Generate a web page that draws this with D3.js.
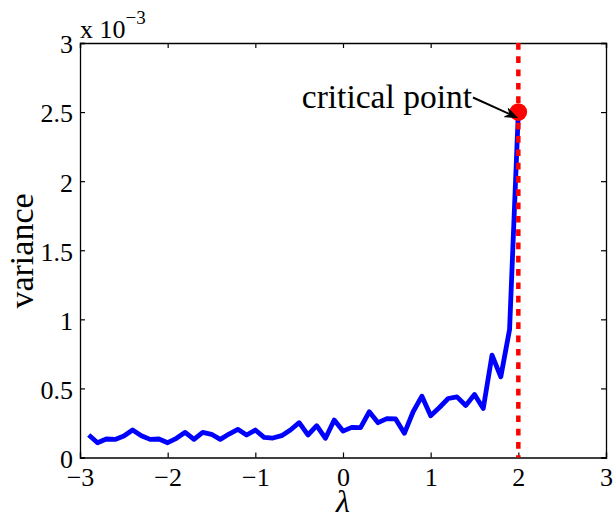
<!DOCTYPE html>
<html>
<head>
<meta charset="utf-8">
<script src="https://cdn.jsdelivr.net/npm/d3@7"></script>
<style>
  html, body { margin: 0; padding: 0; background: #fff; }
  svg { display: block; }
  text { font-family: "Liberation Serif", "Times New Roman", serif; fill: #000; }
</style>
</head>
<body>
<svg id="chart" width="613" height="514"></svg>
<script>
// Control parameter lambda and the measured variance (in units of 1e-3)
const lambdas = [
  -2.9, -2.8, -2.7, -2.6, -2.5, -2.4, -2.3, -2.2, -2.1, -2.0,
  -1.9, -1.8, -1.7, -1.6, -1.5, -1.4, -1.3, -1.2, -1.1, -1.0,
  -0.9, -0.8, -0.7, -0.6, -0.5, -0.4, -0.3, -0.2, -0.1, 0.0,
   0.1,  0.2,  0.3,  0.4,  0.5,  0.6,  0.7,  0.8,  0.9, 1.0,
   1.1,  1.2,  1.3,  1.4,  1.5,  1.6,  1.7,  1.8,  1.9, 2.0
];
const variance = [
  0.163, 0.107, 0.134, 0.131, 0.155, 0.199, 0.158, 0.131, 0.134, 0.107,
  0.139, 0.182, 0.131, 0.182, 0.168, 0.131, 0.170, 0.204, 0.163, 0.199,
  0.146, 0.141, 0.158, 0.199, 0.252, 0.163, 0.230, 0.139, 0.271, 0.191,
  0.218, 0.216, 0.331, 0.252, 0.281, 0.279, 0.175, 0.331, 0.444, 0.302,
  0.362, 0.427, 0.439, 0.377, 0.456, 0.355, 0.741, 0.584, 0.926, 2.5
];
const criticalLambda = 2.0;
const criticalVariance = 2.5;
const xTicks = [-3, -2, -1, 0, 1, 2, 3];
const xTickLabels = ["\u22123", "\u22122", "\u22121", "0", "1", "2", "3"];
const yTicks = [0, 0.5, 1, 1.5, 2, 2.5, 3];
const yTickLabels = ["0", "0.5", "1", "1.5", "2", "2.5", "3"];

const svg = d3.select("#chart");
const plotLeft = 80, plotRight = 606, plotTop = 43, plotBottom = 457.5;

const x = d3.scaleLinear().domain([-3, 3]).range([plotLeft, plotRight]);
const y = d3.scaleLinear().domain([0, 3]).range([plotBottom, plotTop]);

const fontSize = 26;

// Axes with inward-pointing ticks on all four sides
const tick = 5;
const gx = svg.append("g").attr("transform", `translate(0,${plotBottom})`)
  .call(d3.axisBottom(x).tickValues(xTicks).tickSize(-tick).tickPadding(10)
    .tickFormat((d, i) => xTickLabels[i]));
const gxTop = svg.append("g").attr("transform", `translate(0,${plotTop})`)
  .call(d3.axisTop(x).tickValues(xTicks).tickSize(-tick).tickFormat(""));
const gy = svg.append("g").attr("transform", `translate(${plotLeft},0)`)
  .call(d3.axisLeft(y).tickValues(yTicks).tickSize(-tick).tickPadding(7)
    .tickFormat((d, i) => yTickLabels[i]));
const gyRight = svg.append("g").attr("transform", `translate(${plotRight},0)`)
  .call(d3.axisRight(y).tickValues(yTicks).tickSize(-tick).tickFormat(""));

[gx, gxTop, gy, gyRight].forEach(g => {
  g.select(".domain").attr("stroke", "#000").attr("stroke-width", 1.3);
  g.selectAll(".tick line").attr("stroke", "#000").attr("stroke-width", 1.2);
  g.selectAll(".tick text")
    .style("font-family", '"Liberation Serif", serif')
    .style("font-size", fontSize + "px")
    .attr("fill", "#000");
});
gx.selectAll(".tick text").attr("dy", "0.71em");
gy.selectAll(".tick text").attr("dy", "0.38em");

// Exponent label above the y axis
const expo = svg.append("text")
  .attr("x", plotLeft).attr("y", 38)
  .style("font-size", fontSize + "px");
expo.append("tspan").text("x 10");
expo.append("tspan").attr("dy", -14).style("font-size", "19px").text("\u22123");

// Axis titles
svg.append("text")
  .attr("transform", `translate(33,251) rotate(-90)`)
  .attr("text-anchor", "middle")
  .style("font-size", "34px")
  .text("variance");
svg.append("text")
  .attr("x", x(0)).attr("y", 512)
  .attr("text-anchor", "middle")
  .style("font-size", "32px")
  .style("font-style", "italic")
  .text("\u03bb");

// Variance curve
const pts = lambdas.map((l, i) => [l, variance[i]]);
svg.append("path")
  .datum(pts)
  .attr("fill", "none")
  .attr("stroke", "#0000ff")
  .attr("stroke-width", 4.8)
  .attr("stroke-linejoin", "round")
  .attr("d", d3.line().x(d => x(d[0])).y(d => y(d[1])));

// Critical value marker line
svg.append("line")
  .attr("x1", x(criticalLambda)).attr("x2", x(criticalLambda))
  .attr("y1", plotTop).attr("y2", plotBottom)
  .attr("stroke", "#ff0000")
  .attr("stroke-width", 4.5)
  .attr("stroke-dasharray", "6.7,6.6");

// Critical point
svg.append("circle")
  .attr("cx", x(criticalLambda)).attr("cy", y(criticalVariance))
  .attr("r", 8.8)
  .attr("fill", "#ff0000");

// Annotation arrow and label
const ax0 = 473, ay0 = 97.5;
const ax1 = x(criticalLambda) - 1, ay1 = y(criticalVariance) + 5.5;
const ang = Math.atan2(ay1 - ay0, ax1 - ax0);
const hl = 12, hw = 4.5;
svg.append("line")
  .attr("x1", ax0).attr("y1", ay0)
  .attr("x2", ax1 - Math.cos(ang) * 6).attr("y2", ay1 - Math.sin(ang) * 6)
  .attr("stroke", "#000").attr("stroke-width", 2);
const bx = ax1 - Math.cos(ang) * hl, by = ay1 - Math.sin(ang) * hl;
svg.append("path")
  .attr("d", `M${ax1},${ay1} L${bx + Math.sin(ang) * hw},${by - Math.cos(ang) * hw} ` +
             `L${ax1 - Math.cos(ang) * 8},${ay1 - Math.sin(ang) * 8} ` +
             `L${bx - Math.sin(ang) * hw},${by + Math.cos(ang) * hw} Z`)
  .attr("fill", "#000").attr("stroke", "#000").attr("stroke-width", 1);
svg.append("text")
  .attr("x", 472).attr("y", 108)
  .attr("text-anchor", "end")
  .style("font-size", "33.5px")
  .text("critical point");
</script>
</body>
</html>
